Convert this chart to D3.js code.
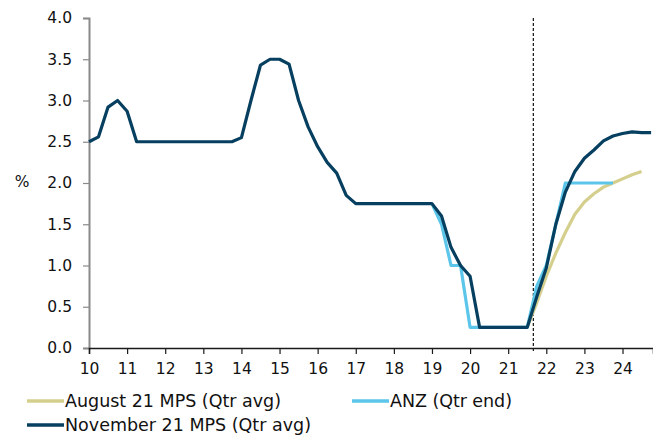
<!DOCTYPE html>
<html lang="en">
<head>
  <meta charset="UTF-8">
  <title>OCR track</title>
  <script src="https://d3js.org/d3.v7.min.js"></script>
  <style>
    body { margin: 0; background: #fff; }
    svg { display: block; }
    text { font-family: "DejaVu Sans", Verdana, sans-serif; fill: #111; }
  </style>
</head>
<body>
  <svg id="chart" width="653" height="436"></svg>

  <script>
    // quarterly series, first value at the given year (10 = 2010)
    const novStart = 10;
    const novValues = [
      2.50, 2.56, 2.92, 3.00, 2.87, 2.50, 2.50, 2.50, 2.50, 2.50,
      2.50, 2.50, 2.50, 2.50, 2.50, 2.50, 2.55, 3.00, 3.43, 3.50,
      3.50, 3.44, 3.00, 2.68, 2.44, 2.25, 2.12, 1.85, 1.75, 1.75,
      1.75, 1.75, 1.75, 1.75, 1.75, 1.75, 1.75, 1.60, 1.22, 1.00,
      0.87, 0.25, 0.25, 0.25, 0.25, 0.25, 0.25, 0.62, 0.97, 1.50,
      1.89, 2.14, 2.30, 2.40, 2.51, 2.57, 2.60, 2.62, 2.61, 2.61
    ];

    const anzStart = 19;
    const anzValues = [
      1.75, 1.50, 1.00, 1.00, 0.25, 0.25, 0.25, 0.25, 0.25, 0.25,
      0.25, 0.75, 1.00, 1.50, 2.00, 2.00, 2.00, 2.00, 2.00, 2.00
    ];

    const augStart = 21.5;
    const augValues = [
      0.25, 0.55, 0.87, 1.15, 1.40, 1.62, 1.77, 1.87, 1.95, 2.00,
      2.05, 2.10, 2.14
    ];

    const xTicks = [10, 11, 12, 13, 14, 15, 16, 17, 18, 19, 20, 21, 22, 23, 24];
    const yTicks = [0, 0.5, 1, 1.5, 2, 2.5, 3, 3.5, 4];
    const forecastStart = 21.66;

    const series = [
      { name: "August 21 MPS (Qtr avg)", start: augStart, values: augValues, color: "#d5cf8e" },
      { name: "ANZ (Qtr end)", start: anzStart, values: anzValues, color: "#5cc6ea" },
      { name: "November 21 MPS (Qtr avg)", start: novStart, values: novValues, color: "#063f5f" }
    ];

    const svg = d3.select("#chart");
    const x = d3.scaleLinear().domain([10, 24.8]).range([89, 653]);
    const y = d3.scaleLinear().domain([0, 4]).range([348, 18]);

    // y axis
    const yAxis = svg.append("g")
      .attr("transform", "translate(89,0)")
      .call(d3.axisLeft(y).tickValues(yTicks).tickFormat(d3.format(".1f")).tickSizeOuter(0).tickSize(6).tickPadding(11));
    yAxis.select(".domain").attr("stroke", "#8a8a8a").attr("stroke-width", 2);
    yAxis.selectAll(".tick line").attr("stroke", "#8a8a8a").attr("stroke-width", 1.2);
    yAxis.selectAll("text").style("font-size", "15.5px").attr("fill", "#111");

    svg.append("text")
      .attr("x", 22).attr("y", 187)
      .attr("text-anchor", "middle")
      .style("font-size", "15.5px")
      .text("%");

    // forecast marker
    svg.append("line")
      .attr("x1", x(forecastStart)).attr("x2", x(forecastStart))
      .attr("y1", y(4)).attr("y2", 352)
      .attr("stroke", "#111")
      .attr("stroke-width", 1.2)
      .attr("stroke-dasharray", "3,2");

    // lines
    const line = d3.line()
      .x(d => x(d.t))
      .y(d => y(d.v));

    series.forEach(s => {
      const pts = s.values.map((v, i) => ({ t: s.start + i * 0.25, v: v }));
      svg.append("path")
        .datum(pts)
        .attr("fill", "none")
        .attr("stroke", s.color)
        .attr("stroke-width", 3.2)
        .attr("stroke-linejoin", "round")
        .attr("d", line);
    });

    // x axis
    const xAxis = svg.append("g")
      .attr("transform", "translate(0,348)")
      .call(d3.axisBottom(x).tickValues(xTicks).tickFormat(d3.format("d")).tickSizeOuter(0).tickSize(6).tickPadding(9));
    xAxis.select(".domain").attr("stroke", "#1a1a1a").attr("stroke-width", 1.5);
    xAxis.selectAll(".tick line").attr("stroke", "#1a1a1a").attr("stroke-width", 1.2);
    xAxis.selectAll("text").style("font-size", "15.5px").attr("fill", "#111");

    // legend
    const legendItems = [
      { s: series[0], x: 27, y: 401 },
      { s: series[1], x: 352, y: 401 },
      { s: series[2], x: 27, y: 425 }
    ];
    const lg = svg.append("g").selectAll("g")
      .data(legendItems)
      .enter().append("g")
      .attr("transform", d => `translate(${d.x},${d.y})`);
    lg.append("line")
      .attr("x1", 0).attr("x2", 37)
      .attr("stroke", d => d.s.color)
      .attr("stroke-width", 3.5);
    lg.append("text")
      .attr("x", 38).attr("y", 6)
      .style("font-size", "17.5px")
      .attr("textLength", d => d.s.name === "ANZ (Qtr end)" ? 122 : (d.s.name.startsWith("August") ? 216 : 246))
      .text(d => d.s.name);
  </script>
</body>
</html>
